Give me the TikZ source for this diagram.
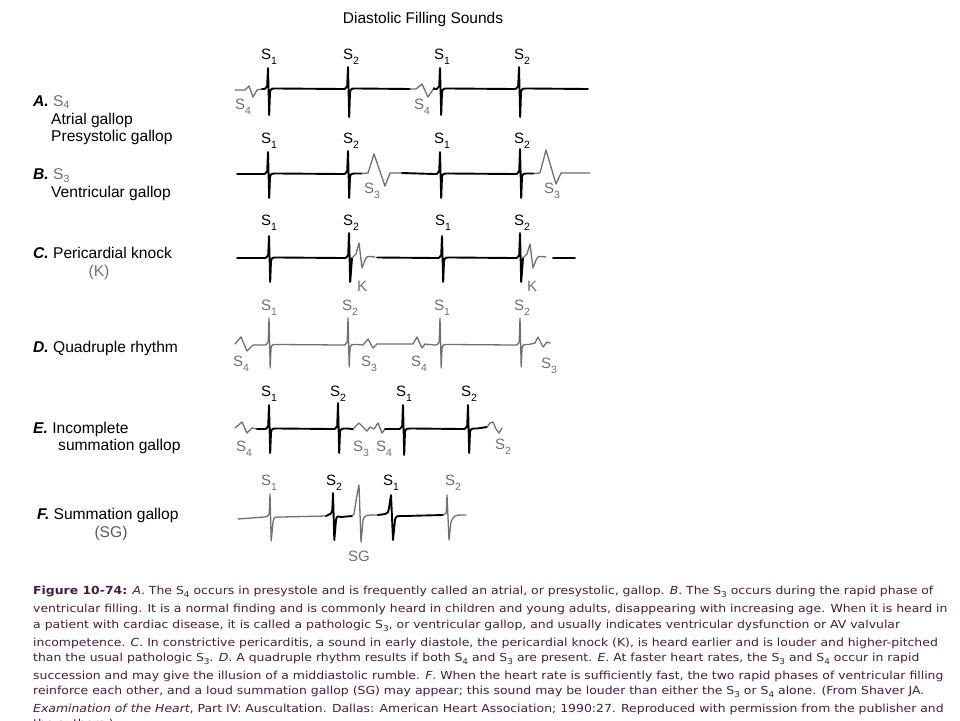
\documentclass[tikz,border=0pt]{standalone}
\usepackage{fontspec}
\setmainfont{Liberation Sans}
\newfontfamily\capfont[FakeStretch=1.12]{DejaVu Sans}
\definecolor{wgray}{RGB}{112,112,112}
\definecolor{capcol}{RGB}{72,28,62}
\newcommand\Ssub[1]{S\raisebox{-0.3em}{\fontsize{10.5}{10.5}\selectfont #1}}
\newcommand\Lsub[1]{S\raisebox{-0.18em}{\fontsize{10.5}{10.5}\selectfont #1}}
\newcommand\csub[1]{\raisebox{-0.3em}{\fontsize{8}{8}\selectfont #1}}
% spike: x, baseline, top, bottom
\newcommand\spk[4]{-- ({#1-6},#2) .. controls ({#1-2.5},#2) .. ({#1-0.8},{#2-3}) -- (#1,#3) -- ({#1+1.2},#4) -- ({#1+2},{#2+3}) .. controls ({#1+3},{#2-0.5}) .. ({#1+9},{#2-0.5})}
\newcommand\spks[4]{-- ({#1-6},#2) .. controls ({#1-2.5},#2) .. ({#1-0.8},{#2-3}) -- (#1,#3) -- ({#1+1.2},#4) -- ({#1+3},#2)}
\tikzset{
  bw/.style={draw=black,line width=1.9pt,line join=round,line cap=round},
  gw/.style={draw=wgray,line width=1.3pt,line join=round,line cap=round},
  lab/.style={font=\fontsize{15}{16}\selectfont,inner sep=0pt},
  glab/.style={lab,text=wgray},
  side/.style={font=\fontsize{15.6}{16}\selectfont,inner sep=0pt,anchor=west},
  captxt/.style={font=\capfont\fontsize{11.1}{13}\selectfont,text=capcol,inner sep=0pt,anchor=base west}
}
\begin{document}
\begin{tikzpicture}[x=1pt,y=-1pt]
\useasboundingbox (0,0) rectangle (960,720);
\clip (0,0) rectangle (960,720);
\fill[white] (0,0) rectangle (960,720);
\node[font=\fontsize{15.5}{16}\selectfont,inner sep=0pt] (title) at (423,19) {Diastolic Filling Sounds};

% ---- left labels
\node[side] (la) at (33,102) {\textbf{\textit{A.}} \textcolor{wgray}{\Lsub4}};
\node[side] (la2) at (51,120) {Atrial gallop};
\node[side] (la3) at (51,137) {Presystolic gallop};
\node[side] (lb) at (33,175.5) {\textbf{\textit{B.}} \textcolor{wgray}{\Lsub3}};
\node[side] (lb2) at (51,193) {Ventricular gallop};
\node[side] (lc) at (33,253) {\textbf{\textit{C.}} Pericardial knock};
\node[side,anchor=center,text=wgray] (lc2) at (99,272) {(K)};
\node[side] (ld) at (33,348) {\textbf{\textit{D.}} Quadruple rhythm};
\node[side] (le) at (33,429) {\textbf{\textit{E.}} Incomplete};
\node[side] (le2) at (58,446) {summation gallop};
\node[side] (lf) at (37,515) {\textbf{\textit{F.}} Summation gallop};
\node[side,anchor=center,text=black!65] (lf2) at (111,533) {(SG)};

% ---- row A
\draw[gw] (235,90) -- (245,90) -- (249,86) -- (253,97) -- (257,90) -- (262,89);
\draw[bw] (262,89) \spk{268}{89}{68}{115} \spk{348}{89}{67}{117} -- (410,89);
\draw[gw] (410,89) -- (416,89) -- (422,84) -- (428,97) -- (434,88);
\draw[bw] (434,88) \spk{440}{89}{68}{115} \spk{519}{89}{67}{117} -- (588,89);
\node[lab] (a1) at (269,57) {\Ssub1};
\node[lab] (a2) at (351,57) {\Ssub2};
\node[lab] (a3) at (442,57) {\Ssub1};
\node[lab] (a4) at (522,57) {\Ssub2};
\node[glab] (a5) at (243,107) {\Ssub4};
\node[glab] (a6) at (422,107) {\Ssub4};

% ---- row B
\draw[bw] (237,174) \spk{268}{174}{152}{198} \spk{348}{174}{151}{198} -- (362,173.5);
\draw[gw] (362,173.5) -- (368,173) -- (374,154) -- (385,186) -- (390,173) -- (402,173);
\draw[bw] (402,173) \spk{440}{174}{152}{198} \spk{520}{174}{149}{198} -- (534,173.5);
\draw[gw] (534,173.5) -- (540,173) -- (546,150) -- (556,184) -- (561,173) -- (590,173);
\node[lab] (b1) at (269,141) {\Ssub1};
\node[lab] (b2) at (351,141) {\Ssub2};
\node[lab] (b3) at (442,141) {\Ssub1};
\node[lab] (b4) at (522,141) {\Ssub2};
\node[glab] (b5) at (372,191) {\Ssub3};
\node[glab] (b6) at (552,191) {\Ssub3};

% ---- row C
\draw[bw] (237,258) \spk{269}{258}{236}{282} \spks{349}{258}{233}{282};
\draw[gw] (352,258) -- (356,254) -- (359,243) -- (362,268) -- (365,260) .. controls (367,256) .. (375,257);
\draw[bw] (377,257.5) \spk{442}{258}{236}{282} \spks{520}{258}{233}{282};
\draw[gw] (523,258) -- (527,254) -- (530,244) -- (533,268) -- (536,260) .. controls (538,256) .. (546,257);
\draw[bw] (553,258) -- (575,258);
\node[lab] (c1) at (269,223) {\Ssub1};
\node[lab] (c2) at (351,223) {\Ssub2};
\node[lab] (c3) at (443,223) {\Ssub1};
\node[lab] (c4) at (522,223) {\Ssub2};
\node[glab] (c5) at (362,286) {K};
\node[glab] (c6) at (532,286) {K};

% ---- row D
\draw[gw] (235,344) -- (241,337) -- (247,351) -- (253,345) \spk{269}{345}{318}{368} \spk{348}{345}{318}{367} -- (363,345) -- (368,339) -- (373,348) -- (377,344) -- (413,344) -- (417,337) -- (422,348) -- (425,344) \spk{440}{345}{318}{368} \spk{520}{345}{318}{367} -- (535,343) -- (538,337) -- (543,347) -- (547,342) -- (550,343);
\node[glab] (d1) at (269,308) {\Ssub1};
\node[glab] (d2) at (350,308) {\Ssub2};
\node[glab] (d3) at (442,308) {\Ssub1};
\node[glab] (d4) at (522,308) {\Ssub2};
\node[glab] (d5) at (241,364) {\Ssub4};
\node[glab] (d6) at (369,364) {\Ssub3};
\node[glab] (d7) at (419,364) {\Ssub4};
\node[glab] (d8) at (549,366) {\Ssub3};

% ---- row E
\draw[gw] (235,428) -- (242,422) -- (247,433) -- (252,428) -- (257,429);
\draw[bw] (257,429) \spk{269}{429}{405}{453} \spk{338}{429}{403}{453} -- (353,429);
\draw[gw] (353,429) -- (359,423) -- (363,427) -- (367,431) -- (370,427) -- (374,429) -- (378,423) -- (382,433) -- (385,429);
\draw[bw] (385,429) \spk{403}{429}{405}{455} \spk{468}{429}{405}{453} -- (487,427);
\draw[gw] (487,427) -- (490,423) -- (493,422) -- (496,429) -- (499,433) -- (502,428);
\node[lab] (e1) at (269,394) {\Ssub1};
\node[lab] (e2) at (338,394) {\Ssub2};
\node[lab] (e3) at (404,394) {\Ssub1};
\node[lab] (e4) at (469,394) {\Ssub2};
\node[glab] (e5) at (244,449) {\Ssub4};
\node[glab] (e6) at (361,449) {\Ssub3};
\node[glab] (e7) at (384,449) {\Ssub4};
\node[glab] (e8) at (503,447) {\Ssub2};

% ---- row F
\draw[gw] (238,519) -- (264,517) .. controls (267,517) .. (269.2,514) -- (270,494) -- (271.2,541) -- (273,522) .. controls (274,517) .. (281,517) -- (326,516);
\draw[bw] (326,516) -- (328,515) .. controls (331,514) .. (332.3,510) -- (333,493) -- (334.3,540) -- (336,520) .. controls (337,516) .. (341,517) -- (352,516);
\draw[gw] (352,516) -- (354,514) -- (357,495) -- (359,485) -- (361,542) -- (363,520) .. controls (365,515) .. (378,515);
\draw[bw] (378,515) -- (385,514) .. controls (388,513) .. (389,508) -- (391,495) -- (393,540) -- (395,520) .. controls (396,516) .. (404,516) -- (443,515);
\draw[gw] (443,515) .. controls (446,514) .. (446.5,510) -- (447,495) -- (449,540) -- (451,522) .. controls (454,515) .. (466,515);
\node[glab] (f1) at (269,483) {\Ssub1};
\node[lab] (f2) at (334,483) {\Ssub2};
\node[lab] (f3) at (391,483) {\Ssub1};
\node[glab] (f4) at (453,483) {\Ssub2};
\node[glab] (f5) at (359,556) {SG};

% ---- caption
\node[captxt] (k1) at (33,594) {\textbf{Figure 10-74:} \textit{A}. The S\csub4 occurs in presystole and is frequently called an atrial, or presystolic, gallop. \textit{B}. The S\csub3 occurs during the rapid phase of};
\node[captxt] (k2) at (33,612) {ventricular filling. It is a normal finding and is commonly heard in children and young adults, disappearing with increasing age. When it is heard in};
\node[captxt] (k3) at (33,628) {a patient with cardiac disease, it is called a pathologic S\csub3, or ventricular gallop, and usually indicates ventricular dysfunction or AV valvular};
\node[captxt] (k4) at (33,646) {incompetence. \textit{C}. In constrictive pericarditis, a sound in early diastole, the pericardial knock (K), is heard earlier and is louder and higher-pitched};
\node[captxt] (k5) at (33,661) {than the usual pathologic S\csub3. \textit{D}. A quadruple rhythm results if both S\csub4 and S\csub3 are present. \textit{E}. At faster heart rates, the S\csub3 and S\csub4 occur in rapid};
\node[captxt] (k6) at (33,679) {succession and may give the illusion of a middiastolic rumble. \textit{F}. When the heart rate is sufficiently fast, the two rapid phases of ventricular filling};
\node[captxt] (k7) at (33,694) {reinforce each other, and a loud summation gallop (SG) may appear; this sound may be louder than either the S\csub3 or S\csub4 alone. (From Shaver JA.};
\node[captxt] (k8) at (33,712) {\textit{Examination of the Heart}, Part IV: Auscultation. Dallas: American Heart Association; 1990:27. Reproduced with permission from the publisher and};
\node[captxt] (k9) at (33,727) {the authors.)};
\end{tikzpicture}
\end{document}
